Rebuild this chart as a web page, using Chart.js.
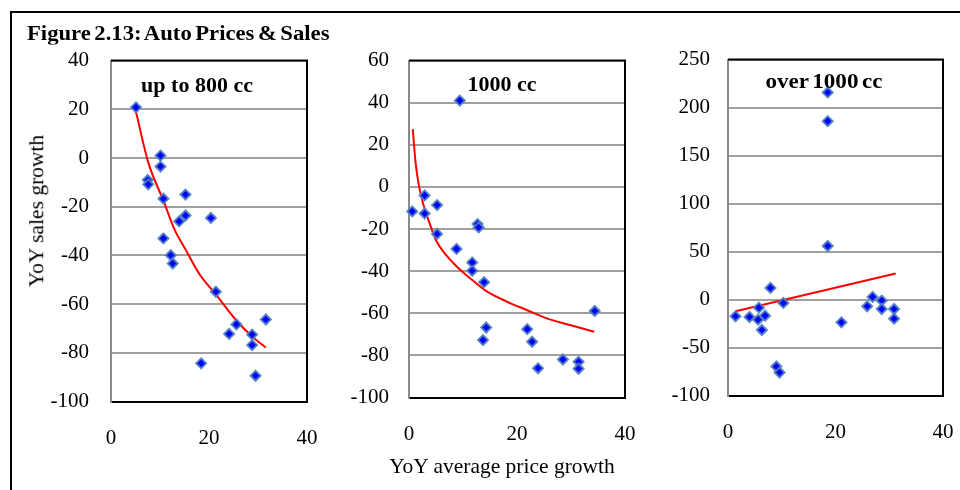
<!DOCTYPE html>
<html>
<head>
<meta charset="utf-8">
<script src="https://cdn.jsdelivr.net/npm/chart.js@4.4.0/dist/chart.umd.min.js"></script>
<style>
body { margin: 0; width: 960px; height: 490px; overflow: hidden; background: #fff; position: relative; font-family: 'Liberation Serif', 'Times New Roman', serif; }
#frame { position: absolute; left: 10px; top: 11px; width: 1000px; height: 520px; border: 2px solid #000; }
.txt { position: absolute; white-space: nowrap; line-height: 1; color: #000; transform: translate(-50%, -50%); z-index: 2; }
canvas { position: absolute; }
</style>
</head>
<body>
<div id="frame"></div>
<div class="txt" style="left:27px;top:33px;transform-origin:0 50%;transform:translateY(-50%) scaleX(1.08);font-weight:bold;font-size:21px;word-spacing:-2px;">Figure 2.13: Auto Prices &amp; Sales</div>
<div class="txt" style="left:37px;top:211px;font-size:21.5px;transform:translate(-50%,-50%) rotate(-90deg);">YoY sales growth</div>
<div class="txt" style="left:502px;top:467px;font-size:21.5px;">YoY average price growth</div>
<div class="txt" style="left:197px;top:85px;font-weight:bold;font-size:20px;transform:translate(-50%,-50%) scaleX(1.1);">up to 800 cc</div>
<div class="txt" style="left:502px;top:84px;font-weight:bold;font-size:20px;transform:translate(-50%,-50%) scaleX(1.1);">1000 cc</div>
<div class="txt" style="left:824px;top:81px;font-weight:bold;font-size:21px;word-spacing:-2px;transform:translate(-50%,-50%) scaleX(1.1);">over 1000 cc</div>

<canvas id="c800"></canvas>
<canvas id="c1000"></canvas>
<canvas id="cOver"></canvas>

<script>
// up to 800 cc
const small_x = [5.1, 10.1, 10.1, 7.5, 7.6, 10.7, 15.2, 15.2, 13.9, 20.4, 10.7, 12.2, 12.6, 21.4, 25.6, 24.1, 28.8, 28.8, 31.6, 18.4, 29.5];
const small_y = [20.8, 1.0, -3.5, -9, -10.8, -16.7, -15, -23.6, -26, -24.6, -33, -39.9, -43.3, -54.9, -68.3, -72.2, -72.5, -76.8, -66.3, -84.3, -89.4];
const small_trend_x = [5.1, 7.6, 10.7, 13, 15.2, 18, 21.4, 25.6, 28.8, 31.6];
const small_trend_y = [19, -1.8, -17.5, -29.5, -37.5, -47.5, -56, -66.7, -73.3, -77.8];

// 1000 cc
const mid_x = [9.4, 2.9, 5.2, 0.6, 2.9, 12.7, 12.9, 5.2, 8.8, 11.7, 11.7, 13.9, 14.3, 13.7, 21.9, 22.8, 23.9, 28.5, 31.4, 31.4, 34.4];
const mid_y = [41.0, -4.0, -8.6, -11.6, -12.6, -17.6, -19.2, -22.3, -29.4, -35.8, -39.8, -45.2, -66.7, -72.7, -67.5, -73.5, -86.1, -81.9, -83, -86.3, -58.9];
const mid_trend_x = [0.7, 1.2, 1.9, 4.2, 5.1, 8.2, 11.3, 14.4, 18.1, 21.8, 25.5, 29.8, 34.3];
const mid_trend_y = [27.5, 12, -0.3, -20, -25.8, -36.1, -43.3, -49.6, -54.4, -58.4, -62.4, -65.5, -68.7];

// over 1000 cc
const big_x = [18.55, 18.55, 18.55, 7.9, 1.4, 4.0, 5.75, 5.6, 6.9, 6.3, 10.3, 9.0, 9.6, 21.1, 25.9, 26.9, 28.6, 28.6, 30.9, 30.9];
const big_y = [215.8, 185.9, 55.8, 12.2, -17.4, -18.1, -8.4, -20.9, -16.7, -31.7, -3.5, -69.7, -76, -23.7, -7.0, 2.8, -1.0, -9.8, -9.8, -19.9];
const big_trend_x = [1.4, 31.2];
const big_trend_y = [-12.2, 27.2];

const x_ticks = [0, 20, 40];

function toPoints(xs, ys) {
    const pts = [];
    for (let i = 0; i < xs.length; i++) {
        pts.push({ x: xs[i], y: ys[i] });
    }
    return pts;
}

// black frame on top and right of the plot area
const plotFrame = {
    id: 'plotFrame',
    beforeDatasetsDraw(chart) {
        const a = chart.chartArea;
        const ctx = chart.ctx;
        ctx.save();
        ctx.strokeStyle = '#000';
        ctx.lineWidth = 2;
        ctx.beginPath();
        ctx.moveTo(a.left, a.top);
        ctx.lineTo(a.right, a.top);
        ctx.lineTo(a.right, a.bottom);
        ctx.stroke();
        ctx.restore();
    }
};

function createPanel(canvasId, box, xs, ys, tx, ty, yMin, yMax, yStep, yPad) {
    const canvas = document.getElementById(canvasId);
    canvas.width = box.right - box.left + 110;
    canvas.height = 460;
    canvas.style.left = (box.left - 70) + 'px';
    canvas.style.top = '20px';
    const ctx = canvas.getContext('2d');

    let yWidth = 70;
    let xHeight = 80;

    const opts = {
        responsive: false,
        maintainAspectRatio: false,
        animation: false,
        layout: { padding: { top: 30, right: 40, left: 0, bottom: 0 } },
        plugins: { legend: { display: false }, tooltip: { enabled: false } },
        scales: {
            x: {
                type: 'linear',
                min: 0,
                max: 40,
                afterBuildTicks: (scale) => { scale.ticks = x_ticks.map(v => ({ value: v })); },
                afterFit: (scale) => { scale.height = xHeight; },
                grid: { display: false, drawTicks: false },
                border: { color: '#000', width: 2 },
                ticks: { padding: 24, color: '#000', font: { family: 'Liberation Serif', size: 21 } }
            },
            y: {
                min: yMin,
                max: yMax,
                afterFit: (scale) => { scale.width = yWidth; },
                grid: { color: '#a0a0a0', lineWidth: 2, drawTicks: false },
                border: { color: '#8a8a8a', width: 2 },
                ticks: { stepSize: yStep, padding: yPad, color: '#000', font: { family: 'Liberation Serif', size: 21 } }
            }
        }
    };

    const chart = new Chart(ctx, {
        type: 'scatter',
        data: {
            datasets: [{
                data: toPoints(xs, ys),
                pointStyle: 'rectRot',
                pointRadius: 5,
                backgroundColor: '#0000ff',
                borderColor: 'rgba(79, 129, 189, 0.9)',
                borderWidth: 2,
                clip: false
            }, {
                type: 'line',
                data: toPoints(tx, ty),
                showLine: true,
                pointRadius: 0,
                borderColor: '#ff0000',
                borderWidth: 2,
                cubicInterpolationMode: 'monotone',
                fill: false
            }]
        },
        options: opts,
        plugins: [plotFrame]
    });

    // size the plot area like the reference, then slide the canvas into place
    for (let k = 0; k < 3; k++) {
        const a = chart.chartArea;
        xHeight -= (box.bottom - box.top) - (a.bottom - a.top);
        chart.config.options.layout.padding.right -= (box.right - box.left) - (a.right - a.left);
        chart.update();
    }
    const a = chart.chartArea;
    canvas.style.left = (box.left - a.left) + 'px';
    canvas.style.top = (box.top - a.top) + 'px';
}

createPanel('c800', { left: 111, top: 61, right: 307, bottom: 402 },
    small_x, small_y, small_trend_x, small_trend_y, -100, 40, 20, 22);
createPanel('c1000', { left: 409, top: 61, right: 625, bottom: 398 },
    mid_x, mid_y, mid_trend_x, mid_trend_y, -100, 60, 20, 20);
createPanel('cOver', { left: 728, top: 60, right: 943, bottom: 396 },
    big_x, big_y, big_trend_x, big_trend_y, -100, 250, 50, 18);
</script>
</body>
</html>
